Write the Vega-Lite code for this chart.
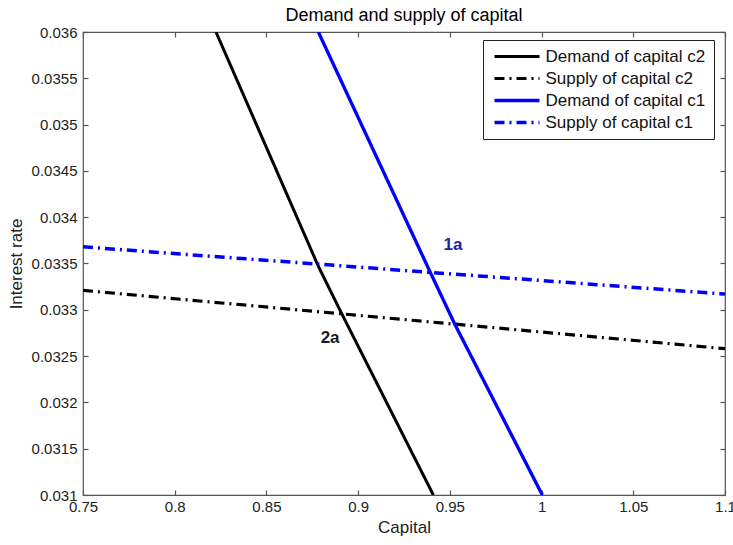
{
  "$schema": "https://vega.github.io/schema/vega-lite/v6.json",
  "width": 642,
  "height": 463,
  "autosize": {"type": "none"},
  "padding": {"left": 83, "top": 32, "right": 8, "bottom": 50},
  "background": "white",
  "title": {
    "text": "Demand and supply of capital",
    "font": "Liberation Sans",
    "fontSize": 18,
    "fontWeight": "normal",
    "color": "black",
    "anchor": "middle",
    "offset": 0
  },
  "config": {
    "font": "Liberation Sans",
    "view": {"stroke": "#555555", "strokeWidth": 1.2},
    "axis": {
      "domain": false,
      "grid": false,
      "tickColor": "#555555",
      "tickWidth": 1.2,
      "tickSize": -5,
      "labelFlush": false,
      "labelFont": "Liberation Sans",
      "labelFontSize": 15,
      "labelColor": "#222222",
      "titleFont": "Liberation Sans",
      "titleFontSize": 17,
      "titleFontWeight": "normal",
      "titleColor": "#222222"
    }
  },
  "datasets": {
    "curves": [
      {"series": "Demand of capital c2", "ord": 1, "capital": 0.8225, "rate": 0.036},
      {"series": "Demand of capital c2", "ord": 2, "capital": 0.8783, "rate": 0.03347},
      {"series": "Demand of capital c2", "ord": 3, "capital": 0.891, "rate": 0.03296},
      {"series": "Demand of capital c2", "ord": 4, "capital": 0.941, "rate": 0.031},
      {"series": "Supply of capital c2", "ord": 1, "capital": 0.75, "rate": 0.03321},
      {"series": "Supply of capital c2", "ord": 2, "capital": 1.1, "rate": 0.03258},
      {"series": "Demand of capital c1", "ord": 1, "capital": 0.8783, "rate": 0.036},
      {"series": "Demand of capital c1", "ord": 2, "capital": 0.9392, "rate": 0.03341},
      {"series": "Demand of capital c1", "ord": 3, "capital": 0.9528, "rate": 0.03284},
      {"series": "Demand of capital c1", "ord": 4, "capital": 1.0004, "rate": 0.031},
      {"series": "Supply of capital c1", "ord": 1, "capital": 0.75, "rate": 0.03368},
      {"series": "Supply of capital c1", "ord": 2, "capital": 1.1, "rate": 0.03317}
    ],
    "points": [
      {"label": "1a", "capital": 0.9517, "rate": 0.0337},
      {"label": "2a", "capital": 0.8847, "rate": 0.0327}
    ]
  },
  "encoding": {
    "x": {
      "field": "capital",
      "type": "quantitative",
      "scale": {"domain": [0.75, 1.1], "nice": false, "zero": false}
    },
    "y": {
      "field": "rate",
      "type": "quantitative",
      "scale": {"domain": [0.031, 0.036], "nice": false, "zero": false}
    }
  },
  "layer": [
    {
      "data": {"name": "curves"},
      "mark": {"type": "line", "clip": true, "strokeCap": "butt"},
      "encoding": {
        "x": {
          "field": "capital",
          "type": "quantitative",
          "axis": {
            "orient": "bottom",
            "title": "Capital",
            "values": [0.75, 0.8, 0.85, 0.9, 0.95, 1, 1.05, 1.1],
            "format": "~g",
            "labelPadding": 9,
            "titlePadding": 5
          }
        },
        "y": {
          "field": "rate",
          "type": "quantitative",
          "axis": {
            "orient": "left",
            "title": "Interest rate",
            "values": [0.031, 0.0315, 0.032, 0.0325, 0.033, 0.0335, 0.034, 0.0345, 0.035, 0.0355, 0.036],
            "format": "~g",
            "labelPadding": 11,
            "titlePadding": 6
          }
        },
        "order": {"field": "ord", "type": "quantitative"},
        "color": {
          "field": "series",
          "type": "nominal",
          "scale": {
            "domain": ["Demand of capital c2", "Supply of capital c2", "Demand of capital c1", "Supply of capital c1"],
            "range": ["#000000", "#000000", "#0000ff", "#0000ff"]
          },
          "legend": {
            "title": null,
            "orient": "none",
            "legendX": 400,
            "legendY": 8,
            "direction": "vertical",
            "symbolType": "M-4.5,0H4.5",
            "symbolSize": 100,
            "symbolOffset": 17.5,
            "symbolStrokeWidth": 3,
            "labelOffset": 20,
            "labelFont": "Liberation Sans",
            "labelFontSize": 17,
            "labelColor": "#111111",
            "labelLimit": 300,
            "rowPadding": 4,
            "padding": 8,
            "strokeColor": "#222222",
            "fillColor": "white"
          }
        },
        "strokeDash": {
          "field": "series",
          "type": "nominal",
          "scale": {
            "domain": ["Demand of capital c2", "Supply of capital c2", "Demand of capital c1", "Supply of capital c1"],
            "range": [[1, 0], [10, 5, 2, 5], [1, 0], [10, 5, 2, 5]]
          },
          "legend": null
        },
        "strokeWidth": {
          "field": "series",
          "type": "nominal",
          "scale": {
            "domain": ["Demand of capital c2", "Supply of capital c2", "Demand of capital c1", "Supply of capital c1"],
            "range": [3, 3.5, 3, 3.5]
          },
          "legend": null
        }
      }
    },
    {
      "data": {"name": "points"},
      "mark": {"type": "text", "font": "Liberation Sans", "fontSize": 17, "fontWeight": "bold", "align": "center", "baseline": "middle"},
      "encoding": {
        "x": {
          "field": "capital",
          "type": "quantitative",
          "axis": {"orient": "top", "title": null, "labels": false, "values": [0.75, 0.8, 0.85, 0.9, 0.95, 1, 1.05, 1.1]}
        },
        "y": {
          "field": "rate",
          "type": "quantitative",
          "axis": {"orient": "right", "title": null, "labels": false, "values": [0.031, 0.0315, 0.032, 0.0325, 0.033, 0.0335, 0.034, 0.0345, 0.035, 0.0355, 0.036]}
        },
        "text": {"field": "label"},
        "color": {
          "condition": {"test": "datum.label === '1a'", "value": "#22229a"},
          "value": "#1a1a1a"
        }
      }
    }
  ],
  "resolve": {"axis": {"x": "independent", "y": "independent"}}
}
